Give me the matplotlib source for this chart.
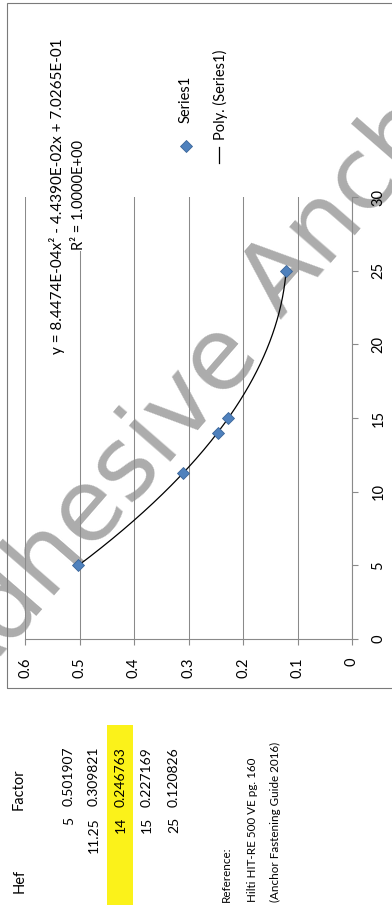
import numpy as np
import matplotlib
matplotlib.use("Agg")
import matplotlib.pyplot as plt
from matplotlib.patches import Rectangle

# ---- data ----
hef = [5, 11.25, 14, 15, 25]
factor = [0.501907, 0.309821, 0.246763, 0.227169, 0.120826]
poly_coeffs = [8.4474e-04, -4.4390e-02, 7.0265e-01]   # quadratic trendline
r_squared = 1.0
factor_ticks = [0, 0.1, 0.2, 0.3, 0.4, 0.5, 0.6]
hef_ticks = [0, 5, 10, 15, 20, 25, 30]
reference_lines = ["Reference:", "Hilti HIT-RE 500 VE pg. 160",
                   "(Anchor Fastening Guide 2016)"]

W, H = 392, 909
FONT = "Lato"
GRID = "#8a8a8a"
BLUE = "#4F81BD"
BLUE_EDGE = "#3a6599"

fig = plt.figure(figsize=(W / 100, H / 100), dpi=100)
fig.patch.set_facecolor("white")


def fx(x):
    return x / W


def fy(y):
    return 1 - y / H


def vtext(x, y, s, ha="left", size=10, **kw):
    """Text reading bottom-to-top anchored at pixel (x, y)."""
    return fig.text(fx(x), fy(y), s, rotation=90, rotation_mode="anchor",
                    ha=ha, va="center", fontsize=size, family=FONT, **kw)


# watermark behind the chart
wm = dict(rotation=49, rotation_mode="anchor", va="baseline", fontsize=72,
          color="#acacac", family="DejaVu Sans", zorder=-1)
fig.text(fx(262), fy(355), "Adhesive", ha="right", **wm)
fig.text(fx(280), fy(320), "Anchor", ha="left", **wm)

# chart area border
fig.patches.append(Rectangle((fx(7), fy(688)), fx(400) - fx(7), fy(3) - fy(688),
                             transform=fig.transFigure, fill=False,
                             edgecolor="#7a7a7a", lw=0.8))

# plot area: factor runs right-to-left, Hef runs bottom-to-top
ax = fig.add_axes([fx(25), fy(639), fx(352) - fx(25), fy(197) - fy(639)])
ax.set_facecolor("none")
ax.set_xlim(0.6, 0)
ax.set_ylim(0, 30)
ax.set_xticks(factor_ticks)
ax.set_xticklabels([f"{t:g}" for t in factor_ticks])
ax.set_yticks(hef_ticks)
ax.set_yticklabels([f"{t:g}" for t in hef_ticks])
ax.yaxis.tick_right()
ax.grid(axis="x", color=GRID, lw=0.75)
ax.grid(axis="y", visible=False)
for side in ("top", "left"):
    ax.spines[side].set_visible(False)
for side in ("bottom", "right"):
    ax.spines[side].set_color(GRID)
    ax.spines[side].set_linewidth(0.8)
ax.tick_params(axis="x", direction="out", length=4, width=0.8, color=GRID,
               pad=9.3, labelsize=10.5)
ax.tick_params(axis="y", direction="out", length=4, width=0.8, color=GRID,
               pad=10, labelsize=10.5)
for lab in ax.get_xticklabels():
    lab.set_rotation(90)
    lab.set_ha("center")
    lab.set_va("top")
    lab.set_family(FONT)
for lab in ax.get_yticklabels():
    lab.set_rotation(90)
    lab.set_ha("left")
    lab.set_va("center")
    lab.set_family(FONT)

# trendline over the data range
xs = np.linspace(min(hef), max(hef), 200)
ax.plot(np.polyval(poly_coeffs, xs), xs, color="black", lw=0.9, zorder=3)
ax.plot(factor, hef, "D", color=BLUE, mec=BLUE_EDGE, mew=0.6, ms=6.3,
        ls="none", zorder=4)

# trendline label
a, b, c = poly_coeffs
eq = f"y = {a:.4E}x² - {abs(b):.4E}x + {c:.4E}"
fig.text(fx(57), fy(196), eq, rotation=90, rotation_mode="anchor", ha="center",
         va="center", fontsize=11, family=FONT)
fig.text(fx(79), fy(195), f"R² = {r_squared:.4E}", rotation=90,
         rotation_mode="anchor", ha="center", va="center", fontsize=10.5,
         family=FONT, bbox=dict(fc="white", ec="none", pad=1))

# legend
fig.add_artist(plt.Line2D([fx(186)], [fy(146)], marker="D", color=BLUE,
                          mec=BLUE_EDGE, mew=0.6, ms=6.3, ls="none",
                          transform=fig.transFigure))
vtext(186, 123, "Series1", size=10.5)
fig.add_artist(plt.Line2D([fx(219), fx(219)], [fy(163), fy(147)], color="black",
                          lw=0.9, transform=fig.transFigure))
vtext(220, 140, "Poly. (Series1)", size=10.5)

# data table to the left of the chart
row_x = [69, 94, 121, 147, 174]
fig.patches.append(Rectangle((fx(107), fy(905)), fx(133) - fx(107),
                             fy(725) - fy(905), transform=fig.transFigure,
                             facecolor="#fbf21a", edgecolor="none", zorder=0))
vtext(19.5, 893, "Hef", size=10.5)
vtext(19, 810, "Factor", size=10.5)
for i, (h, f) in enumerate(zip(hef, factor)):
    vtext(row_x[i], 817, f"{h:g}", ha="right", size=10)
    vtext(row_x[i], 747, f"{f:.6f}", ha="right", size=10)

for x, s in zip([226, 252, 275], reference_lines):
    vtext(x, 902, s, size=8.4)

fig.savefig("out.png", dpi=100)
